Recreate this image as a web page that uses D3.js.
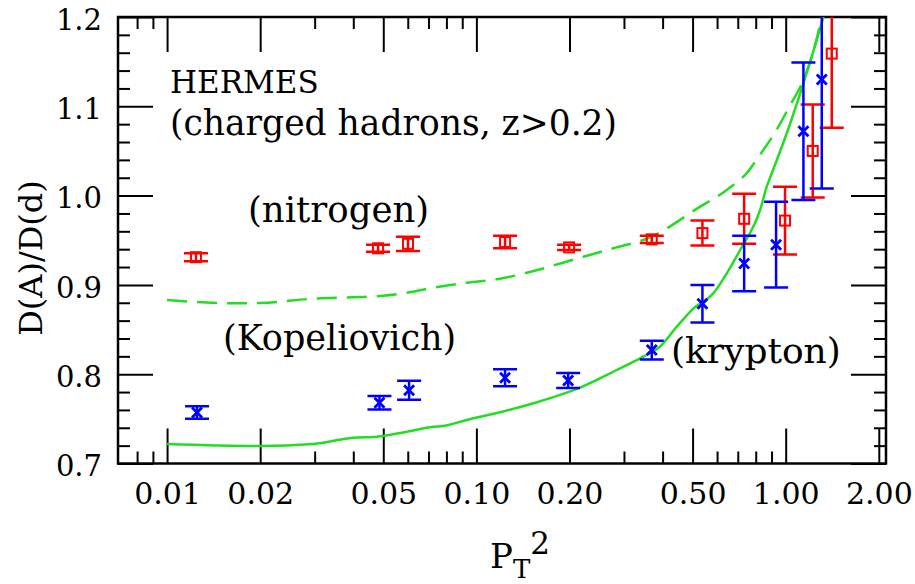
<!DOCTYPE html>
<html>
<head>
<meta charset="utf-8">
<script src="https://cdn.jsdelivr.net/npm/d3@7"></script>
<style>
  body { margin: 0; background: #fff; }
  svg text { font-family: "DejaVu Serif", serif; fill: #000; }
</style>
</head>
<body>
<svg id="drawing_region"></svg>
<script>
// nitrogen data (red squares)
const nitrogenX   = [0.0124, 0.0481, 0.0601, 0.1238, 0.1994, 0.369, 0.538, 0.734, 0.995, 1.223, 1.409];
const nitrogenY   = [0.931, 0.941, 0.946, 0.948, 0.942, 0.951, 0.958, 0.974, 0.972, 1.050, 1.159];
const nitrogenErr = [0.0045, 0.004, 0.008, 0.007, 0.003, 0.004, 0.014, 0.028, 0.038, 0.052, 0.083];

// krypton data (blue crosses)
const kryptonX   = [0.0125, 0.0486, 0.0606, 0.1238, 0.198, 0.369, 0.538, 0.734, 0.931, 1.141, 1.308];
const kryptonY   = [0.757, 0.768, 0.782, 0.796, 0.793, 0.827, 0.879, 0.924, 0.945, 1.072, 1.130];
const kryptonErr = [0.007, 0.0075, 0.0106, 0.0095, 0.0084, 0.0104, 0.021, 0.031, 0.048, 0.077, 0.122];

// Kopeliovich curves (green)
const dashX = [0.01, 0.0168, 0.02, 0.0297, 0.05, 0.0596, 0.0725, 0.093, 0.1193, 0.1529, 0.2218, 0.2773, 0.3644, 0.529, 0.645, 0.7485, 0.8266, 0.9242, 1.033, 1.141, 1.245, 1.308];
const dashY = [0.883, 0.8794, 0.8798, 0.8846, 0.8879, 0.8913, 0.8969, 0.9025, 0.9069, 0.9155, 0.9316, 0.9410, 0.9533, 0.9876, 1.0063, 1.0253, 1.0460, 1.0710, 1.1010, 1.1295, 1.1686, 1.2];
const solidX = [0.01, 0.02, 0.0297, 0.04, 0.0476, 0.0596, 0.0725, 0.0782, 0.093, 0.1193, 0.1529, 0.2163, 0.2844, 0.3464, 0.392, 0.4447, 0.5035, 0.5838, 0.645, 0.7123, 0.8266, 0.8684, 0.9015, 1.008, 1.141, 1.232, 1.325];
const solidY = [0.7218, 0.7196, 0.7218, 0.7289, 0.730, 0.7356, 0.7412, 0.742, 0.7487, 0.7573, 0.7674, 0.7849, 0.8047, 0.8196, 0.8308, 0.8532, 0.8738, 0.8906, 0.913, 0.9391, 0.9839, 1.010, 1.025, 1.0698, 1.1257, 1.163, 1.2];

// axis ticks
const xMajor = [0.01, 0.02, 0.05, 0.1, 0.2, 0.5, 1, 2];
const xMinor = [0.008, 0.009, 0.03, 0.04, 0.06, 0.07, 0.08, 0.09, 0.3, 0.4, 0.6, 0.7, 0.8, 0.9];
const yMajor = [0.7, 0.8, 0.9, 1.0, 1.1, 1.2];
const yMinor = d3.range(36).map(i => +(0.7 + i * 0.02).toFixed(2)).filter(v => v <= 1.2 && Math.round(v * 100) % 10 != 0);

const W = 915, H = 584;
const L = 118, R = 886, T = 17, B = 463.5;

const svg = d3.select('#drawing_region')
    .attr('width', W)
    .attr('height', H);

const xscale = d3.scaleLog().domain([0.00694, 2.11]).range([L, R]);
const yscale = d3.scaleLinear().domain([0.7, 1.2]).range([B, T]);

svg.append('clipPath').attr('id', 'plotclip')
    .append('rect')
    .attr('x', L).attr('y', T)
    .attr('width', R - L).attr('height', B - T);

// axes, ticks pointing inward on all sides
function styleAxis(g) {
    g.select('.domain').remove();
    g.selectAll('.tick line').attr('stroke', '#000').attr('stroke-width', 2);
}

svg.append('g')
    .attr('transform', `translate(0, ${B})`)
    .call(d3.axisBottom(xscale).tickValues(xMajor).tickSize(-35).tickPadding(19.5).tickFormat(d3.format('.2f')))
    .call(styleAxis)
    .selectAll('text').style('font-size', '30px');
svg.append('g')
    .attr('transform', `translate(0, ${B})`)
    .call(d3.axisBottom(xscale).tickValues(xMinor).tickSize(-12).tickFormat(''))
    .call(styleAxis);
svg.append('g')
    .attr('transform', `translate(0, ${T})`)
    .call(d3.axisTop(xscale).tickValues(xMajor).tickSize(-35).tickFormat(''))
    .call(styleAxis);
svg.append('g')
    .attr('transform', `translate(0, ${T})`)
    .call(d3.axisTop(xscale).tickValues(xMinor).tickSize(-12).tickFormat(''))
    .call(styleAxis);

svg.append('g')
    .attr('transform', `translate(${L}, 0)`)
    .call(d3.axisLeft(yscale).tickValues(yMajor).tickSize(-35).tickPadding(16).tickFormat(d3.format('.1f')))
    .call(styleAxis)
    .selectAll('text').style('font-size', '29px').attr('dy', '0.42em');
svg.append('g')
    .attr('transform', `translate(${L}, 0)`)
    .call(d3.axisLeft(yscale).tickValues(yMinor).tickSize(-12).tickFormat(''))
    .call(styleAxis);
svg.append('g')
    .attr('transform', `translate(${R}, 0)`)
    .call(d3.axisRight(yscale).tickValues(yMajor).tickSize(-35).tickFormat(''))
    .call(styleAxis);
svg.append('g')
    .attr('transform', `translate(${R}, 0)`)
    .call(d3.axisRight(yscale).tickValues(yMinor).tickSize(-12).tickFormat(''))
    .call(styleAxis);

svg.append('rect')
    .attr('x', L).attr('y', T)
    .attr('width', R - L).attr('height', B - T)
    .attr('fill', 'none')
    .attr('stroke', '#000')
    .attr('stroke-width', 2.5);

// theory curves
const plot = svg.append('g').attr('clip-path', 'url(#plotclip)');
const line = d3.line()
    .x(d => xscale(d[0]))
    .y(d => yscale(d[1]))
    .curve(d3.curveMonotoneX);

plot.append('path')
    .datum(dashX.map((x, i) => [x, dashY[i]]))
    .attr('d', line)
    .attr('fill', 'none')
    .attr('stroke', '#22dd22')
    .attr('stroke-width', 2.5)
    .attr('stroke-dasharray', '20,10');

plot.append('path')
    .datum(solidX.map((x, i) => [x, solidY[i]]))
    .attr('d', line)
    .attr('fill', 'none')
    .attr('stroke', '#22dd22')
    .attr('stroke-width', 2.5);

// data points with error bars
const cap = 12;
function drawSeries(xs, ys, es, color, marker) {
    const pts = xs.map((x, i) => ({ x: x, y: ys[i], e: es[i] }));
    const g = plot.append('g').attr('stroke', color).attr('fill', 'none');
    g.selectAll('.bar').data(pts).enter().append('line')
        .attr('x1', d => xscale(d.x)).attr('x2', d => xscale(d.x))
        .attr('y1', d => yscale(d.y - d.e)).attr('y2', d => yscale(d.y + d.e))
        .attr('stroke-width', 2.5);
    [-1, 1].forEach(s => {
        g.selectAll('.cap' + s).data(pts).enter().append('line')
            .attr('x1', d => xscale(d.x) - cap).attr('x2', d => xscale(d.x) + cap)
            .attr('y1', d => yscale(d.y + s * d.e)).attr('y2', d => yscale(d.y + s * d.e))
            .attr('stroke-width', 2.5);
    });
    if (marker == 'square') {
        g.selectAll('.mk').data(pts).enter().append('rect')
            .attr('x', d => xscale(d.x) - 5).attr('y', d => yscale(d.y) - 5)
            .attr('width', 10).attr('height', 10)
            .attr('stroke-width', 2);
    } else {
        g.selectAll('.mk').data(pts).enter().append('path')
            .attr('d', d => {
                const cx = xscale(d.x), cy = yscale(d.y), r = 5;
                return `M${cx - r},${cy - r}L${cx + r},${cy + r}M${cx - r},${cy + r}L${cx + r},${cy - r}`;
            })
            .attr('stroke-width', 2.8);
    }
}
drawSeries(nitrogenX, nitrogenY, nitrogenErr, '#ff0000', 'square');
drawSeries(kryptonX, kryptonY, kryptonErr, '#0000ff', 'cross');

// annotations
const notes = [
    { text: 'HERMES', x: 170, y: 93, size: 31 },
    { text: '(charged hadrons, z>0.2)', x: 170, y: 135, size: 34.5 },
    { text: '(nitrogen)', x: 248, y: 222, size: 35.5 },
    { text: '(Kopeliovich)', x: 223, y: 350, size: 35 },
    { text: '(krypton)', x: 671, y: 363, size: 36 }
];
svg.selectAll('.note').data(notes).enter().append('text')
    .attr('x', d => d.x).attr('y', d => d.y)
    .style('font-size', d => d.size + 'px')
    .text(d => d.text);

// axis titles
const xt = svg.append('text').attr('x', 490).attr('y', 568).style('font-size', '34px');
xt.append('tspan').text('P');
xt.append('tspan').attr('dy', 10).style('font-size', '26px').text('T');
xt.append('tspan').attr('dy', -24).style('font-size', '31px').text('2');

svg.append('text')
    .attr('transform', 'translate(42, 258) rotate(-90)')
    .attr('text-anchor', 'middle')
    .style('font-size', '32px')
    .text('D(A)/D(d)');
</script>
</body>
</html>
